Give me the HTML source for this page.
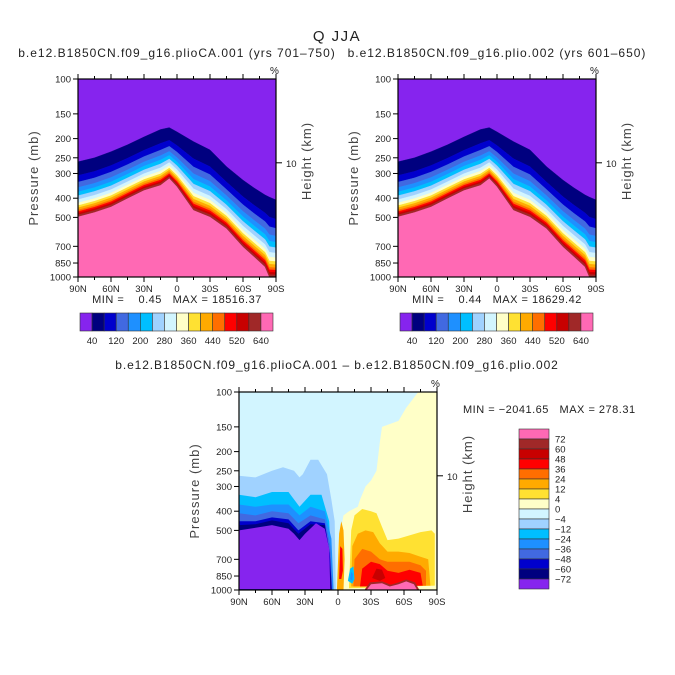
<!DOCTYPE html>
<html><head><meta charset="utf-8"><style>
body{margin:0;background:#fff}
svg{display:block;font-family:"Liberation Sans","DejaVu Sans",sans-serif}
</style></head><body>
<svg id="s" width="675" height="675" viewBox="0 0 675 675">
<text x="337" y="41" font-size="15" text-anchor="middle" fill="#222" letter-spacing="1.5">Q  JJA</text>
<text x="177" y="57" font-size="12" text-anchor="middle" fill="#222" letter-spacing="1">b.e12.B1850CN.f09_g16.plioCA.001 (yrs 701–750)</text>
<text x="497" y="57" font-size="12" text-anchor="middle" fill="#222" letter-spacing="1">b.e12.B1850CN.f09_g16.plio.002 (yrs 601–650)</text>
<text x="337" y="369" font-size="12" text-anchor="middle" fill="#222" letter-spacing="0.9">b.e12.B1850CN.f09_g16.plioCA.001 – b.e12.B1850CN.f09_g16.plio.002</text>
<text x="177" y="303" font-size="11" text-anchor="middle" fill="#222" letter-spacing="0.5" xml:space="preserve">MIN =    0.45   MAX = 18516.37</text>
<text x="497" y="303" font-size="11" text-anchor="middle" fill="#222" letter-spacing="0.5" xml:space="preserve">MIN =    0.44   MAX = 18629.42</text>
<text x="463" y="413" font-size="11" fill="#222" letter-spacing="0.5" xml:space="preserve">MIN = −2041.65   MAX = 278.31</text>
</svg>
<script>
const NS='http://www.w3.org/2000/svg';
const svg=document.getElementById('s');
const absColors=['#8624ee','#00007f','#0000cd','#4169e1','#1e90ff','#00bfff','#a0d2ff','#d2f5ff','#ffffc8','#ffe132','#ffaa00','#ff6e00','#ff0000','#c80000','#a02828','#ff69b4'];
const absLabels=['40','120','200','280','360','440','520','640'];
const diffLabels=['72','60','48','36','24','12','4','0','−4','−12','−24','−36','−48','−60','−72'];
const diffColors=['#ff69b4','#a02828','#c80000','#ff0000','#ff6e00','#ffaa00','#ffe132','#ffffc8','#d2f5ff','#a0d2ff','#00bfff','#1e90ff','#4169e1','#0000cd','#00007f','#8624ee'];
const xTickLabels=['90N','60N','30N','0','30S','60S','90S'];
const pTicks=[100,150,200,250,300,400,500,700,850,1000];
// absolute Q field: latitudes and band-edge pressures
const lats=[90,75,60,45,30,15,7,0,-15,-30,-45,-60,-70,-80,-84,-90];
const topEdgeP=[262,250,233,215,196,180,176,185,207,228,277,324,355,385,395,408];
const pinkEdgeP=[495,470,441,400,364,343,317,349,459,496,568,703,789,887,1000,1000];
const bandFrac=[0.25,0.12,0.1,0.08,0.07,0.07,0.06,0.05,0.04,0.04,0.03,0.03,0.03,0.03];
// difference field regions (lat, pressure outlines)
const diffRegions=[
 {name:'positive-0-4',c:7,lat:[-73,-90,-90,0,0,-5,-10,-18,-20,-25,-30,-35,-38,-40,-55,-62],p:[100,100,1000,1000,600,420,400,380,350,300,280,250,180,150,140,120]},
 {name:'positive-4-12',c:6,lat:[-10,-12,-15,-22,-30,-35,-40,-45,-55,-65,-75,-85,-88,-88],p:[980,500,420,390,400,410,480,560,550,530,510,500,520,950]},
 {name:'positive-12-24',c:5,lat:[-12,-13,-18,-25,-32,-38,-45,-55,-65,-75,-82,-84],p:[960,600,520,500,510,580,640,640,650,680,700,950]},
 {name:'positive-24-36',c:4,lat:[-14,-15,-22,-30,-38,-45,-55,-65,-75,-80,-80],p:[960,700,620,640,700,720,720,720,750,800,950]},
 {name:'positive-36-48',c:3,lat:[-20,-22,-30,-38,-45,-55,-65,-75,-77],p:[960,780,720,740,800,820,790,820,950]},
 {name:'positive-48-60',c:2,lat:[-31,-35,-40,-43,-38],p:[870,780,790,870,900]},
 {name:'tropic-orange',c:5,lat:[1,-1,-3,-5,-6,-5,-2],p:[1000,520,450,500,700,1000,1000]},
 {name:'tropic-red',c:3,lat:[-1,-2,-4,-4.5,-3],p:[880,600,620,800,880]},
 {name:'positive-brown',c:1,lat:[-24,-29,-40,-48,-55,-62,-70,-74],p:[1000,915,905,940,915,885,915,1000]},
 {name:'positive-pink',c:0,lat:[-26,-30,-40,-47,-55,-62,-69,-72],p:[1000,935,925,960,935,905,935,1000]},
 {name:'negative-4-12',c:9,lat:[90,75,60,50,40,35,32,25,18,10,6,3,2,90],p:[265,270,250,240,250,270,260,220,220,260,350,450,1000,1000]},
 {name:'negative-12-24',c:10,lat:[90,75,60,45,35,25,15,8,5,90],p:[330,340,320,320,380,330,330,450,1000,1000]},
 {name:'negative-24-36',c:11,lat:[90,75,60,45,35,25,12,6,4,90],p:[370,380,370,370,420,380,400,550,1000,1000]},
 {name:'negative-36-48',c:12,lat:[90,75,60,45,36,25,12,7,5,90],p:[410,420,400,410,460,420,440,600,1000,1000]},
 {name:'negative-48-60',c:13,lat:[90,75,60,45,36,25,12,7.5,5.5,90],p:[450,450,430,440,500,450,460,650,1000,1000]},
 {name:'negative-60-72',c:14,lat:[90,75,60,45,36,25,12,8,6,90],p:[470,465,445,460,520,465,470,700,1000,1000]},
 {name:'negative-below-72',c:15,lat:[90,75,60,45,40,35,30,20,12,8,7,90],p:[500,485,470,490,520,560,520,460,490,620,990,990]},
 {name:'tropic-blue',c:10,lat:[-9,-11,-14,-15,-13],p:[900,780,760,880,930]},
 {name:'tropic-blue-core',c:11,lat:[-11,-12,-13.5,-13],p:[880,810,830,900]}
];
function el(tag,attrs,parent){const e=document.createElementNS(NS,tag);for(const k in attrs)e.setAttribute(k,attrs[k]);(parent||svg).appendChild(e);return e;}
function makeAxes(x0,y0,w,h){
 const xs=lat=>x0+(90-lat)/180*w;
 const ys=p=>y0+(Math.log10(p)-2)*h;
 return {xs,ys};
}
function frame(x0,y0,w,h,ax,prefix){
 const g=el('g',{});
 
 
 el('rect',{x:x0,y:y0,width:w,height:h,fill:'none',stroke:'#000','stroke-width':1.2},g);
 xTickLabels.forEach((l,i)=>{const lat=90-i*30;const x=ax.xs(lat);
  el('line',{x1:x,y1:y0+h,x2:x,y2:y0+h+5,stroke:'#000'},g);
  el('line',{x1:x,y1:y0,x2:x,y2:y0-5,stroke:'#000'},g);
  const t=el('text',{x:x,y:y0+h+15,'font-size':9.5,'text-anchor':'middle',fill:'#222'},g);t.textContent=l;
  
  
 });
 for(let lat=75;lat>-90;lat-=15){const x=ax.xs(lat);el('line',{x1:x,y1:y0+h,x2:x,y2:y0+h+3,stroke:'#000'},g);el('line',{x1:x,y1:y0,x2:x,y2:y0-3,stroke:'#000'},g);}
 pTicks.forEach(p=>{const y=ax.ys(p);
  el('line',{x1:x0-5,y1:y,x2:x0,y2:y,stroke:'#000'},g);
  const t=el('text',{x:x0-7,y:y+3.5,'font-size':9.5,'text-anchor':'end',fill:'#222'},g);t.textContent=p;
  
  
 });
 const yk=ax.ys(265);
 el('line',{x1:x0+w,y1:yk,x2:x0+w+6,y2:yk,stroke:'#000'},g);
 const tk=el('text',{x:x0+w+10,y:yk+4,'font-size':9.5,fill:'#222'},g);tk.textContent='10';
 const yl=el('text',{x:0,y:0,'font-size':13,'text-anchor':'middle',fill:'#444','letter-spacing':1,transform:`translate(${x0-40},${y0+h/2}) rotate(-90)`},g);yl.textContent='Pressure (mb)';
 
 
 const yr=el('text',{x:0,y:0,'font-size':13,'text-anchor':'middle',fill:'#444','letter-spacing':1,transform:`translate(${x0+w+35},${y0+h/2-17}) rotate(-90)`},g);yr.textContent='Height (km)';
 
 
 const pc=el('text',{x:x0+w-6,y:y0-5,'font-size':10,fill:'#222'},g);pc.textContent='%';
}
function absPanel(x0,y0,w,h,prefix){
 const ax=makeAxes(x0,y0,w,h);
 el('rect',{x:x0,y:y0,width:w,height:h,fill:absColors[15]});
 const bounds=[topEdgeP.map(p=>Math.log10(p))];
 let cum=0;
 bandFrac.forEach(f=>{cum+=f;bounds.push(topEdgeP.map((p,i)=>{const a=Math.log10(p),b=Math.log10(pinkEdgeP[i]);return a+(b-a)*cum;}));});
 const pts=b=>lats.map((lat,i)=>ax.xs(lat).toFixed(1)+','+ax.ys(Math.pow(10,b[i])).toFixed(1));
 let d='M'+ax.xs(90)+','+y0+' L'+ax.xs(-90)+','+y0+' L'+pts(bounds[0]).reverse().join(' L')+'Z';
 const pp=el('path',{d,fill:absColors[0]});
 
 
 for(let k=0;k<bounds.length-1;k++){
  const d2='M'+pts(bounds[k]).join(' L')+' L'+pts(bounds[k+1]).reverse().join(' L')+'Z';
  const b=el('path',{d:d2,fill:absColors[k+1],stroke:absColors[k+1],'stroke-width':0.4});
  
  
 }
 frame(x0,y0,w,h,ax,prefix);
 const cx=x0+2,cw=(w-5)/16,cy=313;
 absColors.forEach((c,i)=>{const r=el('rect',{x:cx+i*cw,y:cy,width:cw,height:18,fill:c,stroke:'#333','stroke-width':0.6});
  
  });
 absLabels.forEach((l,i)=>{const t=el('text',{x:cx+(2*i+1)*cw,y:cy+31,'font-size':9.5,'text-anchor':'middle',fill:'#222'});t.textContent=l;
  
  });
}
absPanel(78,79,198,198,'left-panel');
absPanel(398,79,198,198,'right-panel');
(function(){
 const x0=239,y0=392,w=198,h=198;
 const ax=makeAxes(x0,y0,w,h);
 const clip=el('clipPath',{id:'dc'});el('rect',{x:x0,y:y0,width:w,height:h},clip);
 const g=el('g',{'clip-path':'url(#dc)'});
 el('rect',{x:x0,y:y0,width:w,height:h,fill:diffColors[8]},g);
 diffRegions.forEach(r=>{
  const d='M'+r.lat.map((lat,i)=>ax.xs(lat).toFixed(1)+','+ax.ys(r.p[i]).toFixed(1)).join(' L')+'Z';
  const p=el('path',{d,fill:diffColors[r.c]},g);
  
  
 });
 frame(x0,y0,w,h,ax,'diff-panel');
 const cy=429,ch=160/16;
 diffColors.forEach((c,i)=>{const r=el('rect',{x:519,y:cy+i*ch,width:30,height:ch,fill:c,stroke:'#333','stroke-width':0.6});
  
  });
 diffLabels.forEach((l,i)=>{const t=el('text',{x:555,y:cy+(i+1)*ch+3.5,'font-size':9.5,fill:'#222'});t.textContent=l;
  
  });
})();
</script>
</body></html>
